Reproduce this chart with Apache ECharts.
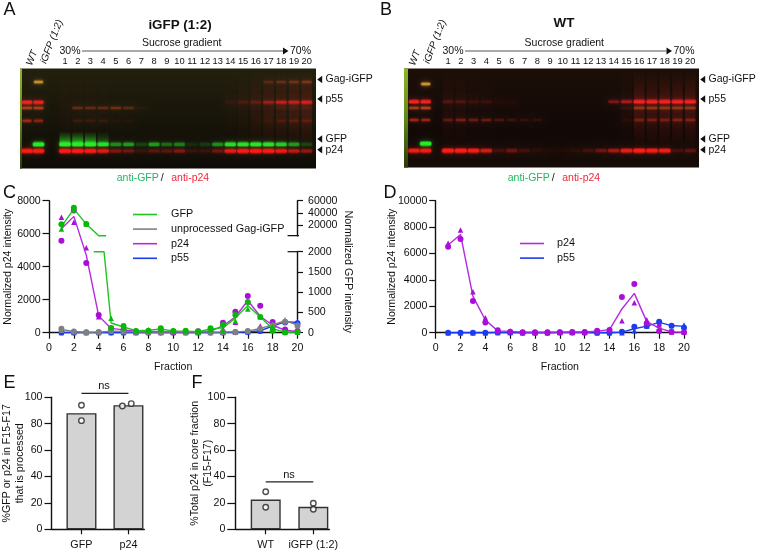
<!DOCTYPE html>
<html><head><meta charset="utf-8">
<style>html,body{margin:0;padding:0;background:#fff}#c{width:757px;height:552px}</style>
<script src="https://cdn.jsdelivr.net/npm/echarts@6/dist/echarts.min.js"></script>
</head><body><div id="c"></div>
<script>
// ---------- panel C (fractions 1..20) ----------
const p24C_mean = [6300,7050,4700,1020,260,170,90,60,70,40,40,50,90,420,950,1950,1000,450,150,70];
const p24C_circle = [5580,7400,4220,1070,250,180,80,60,90,40,40,60,100,600,1270,2220,1640,650,200,100];
const p24C_tri = [7000,6700,5150,970,270,160,100,60,50,40,40,40,80,240,630,1880,400,250,100,40];
const gfpC_upper_x = [1,2,3,4,4.6];
const gfpC_upper_mean = [17800,46700,22000,3100,3100];
const gfpC_upper_circle = [21600,48600,22100];
const gfpC_upper_tri = [14000,44900,22000];
const gfpC_lower_x = [3.6,4.43,5,6,7,8,9,10,11,12,13,14,15,16,17,18,19,20];
const gfpC_lower_mean = [2000,2000,240,140,50,60,90,40,40,25,90,120,360,670,390,100,10,15];
const gfpC_circle = [null,null,null,null,115,165,40,50,107,40,50,25,107,190,436,757,387,50,8,16];
const gfpC_tri = [null,null,null,null,354,120,60,70,70,40,30,25,70,50,288,584,396,150,12,14];
const gagC_mean = [80,30,10,15,40,30,25,15,15,30,20,30,15,15,20,40,105,190,296,190];
const gagC_circle = [100,30,10,15,40,30,25,15,10,30,20,40,15,15,20,40,100,180,270,170];
const gagC_tri = [60,30,10,15,40,30,25,15,20,30,20,20,15,15,20,40,110,200,320,210];
const p55C_mean = [10,5,5,5,5,10,5,5,5,5,5,5,5,10,30,50,120,400,660,620];
const p55C_circle = [10,5,5,5,5,10,5,5,5,5,5,5,5,10,30,40,100,380,620,580];
const p55C_tri = [10,5,5,5,5,10,5,5,5,5,5,5,5,10,30,60,140,420,700,660];
// ---------- panel D ----------
const p24D_mean = [6640,7440,2750,960,140,100,40,40,40,40,50,50,120,230,1800,2980,840,350,60,30];
const p24D_circle = [6515,7096,2400,780,177,75,30,40,30,40,50,60,150,200,2700,3690,700,120,75,25];
const p24D_tri = [6770,7780,3100,1140,100,120,50,40,50,40,50,40,90,260,910,2270,985,580,50,30];
const p55D_mean = [0,0,0,0,10,10,0,0,0,10,10,10,0,0,40,300,500,780,540,480];
const p55D_circle = [0,0,0,0,10,10,0,0,0,10,10,10,0,0,75,450,500,830,530,380];
const p55D_tri = [0,0,0,0,10,10,0,0,0,10,10,10,0,0,0,150,500,730,550,580];
// ---------- panels E, F ----------
const catE = ['GFP','p24'];
const barE = [88,94];
const ptsE = [[0.653,94],[0.653,82.3],[1.53,93.4],[1.72,95.2]];
const catF = ['WT','iGFP (1:2)'];
const barF = [22.5,17];
const ptsF = [[0.647,28.5],[0.647,16.7],[1.66,19.7],[1.66,15.2]];
const posEF = [0.653,1.66];
// ---------- blots: band strength per lane (WT, iGFP, 1..20) ----------
const laneNums = ['1','2','3','4','5','6','7','8','9','10','11','12','13','14','15','16','17','18','19','20'];
const A_p24 = [1,1, 1,1,.9,.65,.25,.2,.08,.15,.15,.25,.08,.08,.2,.7,.95,1,.95,.75,.45,.3];
const A_gfp = [0,1, 1,1,1,.75,.3,.35,.1,.35,.2,.25,.05,.08,.3,.75,.8,.85,.8,.6,.35,.1];
const A_p55 = [1,.9, 0,0,0,0,0,0,0,0,0,0,0,0,0,.05,.1,.15,.3,.5,.5,.6];
const A_m1 = [.5,.5, 0,.2,.2,.2,.25,.18,.04,0,0,0,0,0,0,0,0,0,0,.05,.05,.05];
const A_m2 = [.5,.4, 0,.1,.1,.08,.04,.04,0,0,0,0,0,0,0,0,0,0,.04,.12,.15,.15];
const A_gag = [0,.7, 0,0,0,0,0,0,0,0,0,0,0,0,0,0,0,0,.15,.2,.25,.3];
const A_smear = [0,0, .05,.05,.05,.03,0,0,0,0,0,0,0,0,0,.05,.1,.2,.3,.3,.35,.4];
const B_p24 = [.8,.8, 1,1,.85,.55,.1,.2,.1,.05,.03,.03,.05,.1,.2,.35,.7,1,.85,.8,.1,.15];
const B_gfp = [0,1, 0,0,0,0,0,0,0,0,0,0,0,0,0,0,0,0,0,0,0,0];
const B_p55 = [1,1, .12,.12,.08,.08,.03,.03,0,0,0,0,0,0,0,.25,.4,1,1,1,1,1];
const B_m1 = [.5,.6, 0,0,0,0,0,0,0,0,0,0,0,0,0,0,.05,.35,.35,.35,.35,.35];
const B_m2 = [.5,.45, .2,.3,.25,.25,.15,.12,.08,.08,0,0,0,0,0,0,.05,.25,.25,.25,.3,.3];
const B_gag = [0,.8, 0,0,0,0,0,0,0,0,0,0,0,0,0,0,0,0,0,0,0,0];
const B_smear = [0,0, .12,.12,.05,.03,0,0,0,0,0,0,0,0,0,0,.08,.4,.35,.4,.4,.4];

const FONT = '"Liberation Sans", Arial, sans-serif';
const GREEN='#1fc41f', GREEN_M='#08b808', PURPLE='#b32be0', PURPLE_M='#a90fd8', GRAY='#808080', BLUE='#1c3cf0', INK='#111';
const els=[];
function text(t,x,y,o={}){els.push({type:'text',x,y,rotation:o.rot||0,silent:true,z:20,style:{text:t,x:0,y:0,fill:o.fill||INK,font:(o.style||'')+' '+(o.weight||'')+' '+(o.size||10.5)+'px '+FONT,textAlign:o.align||'center',textVerticalAlign:'middle',textBaseline:'middle'}});}
function tri(x,y,w,h,dir){
  const pts = dir<0?[[x,y],[x+w,y-h],[x+w,y+h]]:[[x+w,y],[x,y-h],[x,y+h]];
  els.push({type:'polygon',silent:true,z:20,shape:{points:pts},style:{fill:INK}});
}
function band(x,y,w,h,c,a){
  if(a<=0) return;
  els.push({type:'rect',silent:true,z:10,shape:{x:x-w/2-.5,y:y-h/2-1.2,width:w+1,height:h+2.4,r:2},style:{fill:c,opacity:a*.4,shadowBlur:5,shadowColor:c}});
  els.push({type:'rect',silent:true,z:11,shape:{x:x-w/2,y:y-h/2,width:w,height:h,r:1.5},style:{fill:c,opacity:a*.9,shadowBlur:2,shadowColor:c}});
}
function smear(x,y0,y1,w,c,a){ if(a<=0) return; const t=c+'00', m=c; els.push({type:'rect',silent:true,z:9,shape:{x:x-w/2,y:y0,width:w,height:y1-y0},style:{opacity:a,fill:{type:'linear',x:0,y:0,x2:0,y2:1,colorStops:[{offset:0,color:t},{offset:.3,color:m},{offset:.6,color:m},{offset:1,color:t}]}}}); }
function blot(b){
  els.push({type:'rect',silent:true,z:8,shape:{x:b.x0,y:b.y0,width:b.x1-b.x0,height:b.y1-b.y0},style:{fill:{type:'linear',x:0,y:0,x2:0,y2:1,colorStops:b.bg}}});
  els.push({type:'rect',silent:true,z:9,shape:{x:b.x0,y:b.y0,width:b.edge,height:b.y1-b.y0},style:{fill:{type:'linear',x:0,y:0,x2:0,y2:1,colorStops:[{offset:0,color:'#8fb52a'},{offset:.5,color:'#5e8a18'},{offset:1,color:'#2a3a0c'}]}}});
  const lx = i=> i===0?b.wt : i===1?b.ig : b.l1+(i-2)*b.dl;
  b.smear.forEach((a,i)=>{ smear(lx(i),b.y0+2,b.rp24-2,10.5,'#c8281c',a*.5); });
  if(b.streak) b.streak.forEach((a,i)=>{ els.push({type:'rect',silent:true,z:9,shape:{x:lx(i+2)-5.5,y:b.rgfp-13,width:11,height:13},style:{opacity:a,fill:{type:'linear',x:0,y:0,x2:0,y2:1,colorStops:[{offset:0,color:'rgba(40,220,40,0)'},{offset:1,color:'rgba(40,230,40,.75)'}]}}}); });
  b.gag.forEach((a,i)=>band(lx(i),b.rgag,i<2?9:10,2,i<2?'#e0a030':'#c84a20',a));
  b.p55.forEach((a,i)=>band(lx(i),b.rp55,i<2?10:11,2.4,'#f52020',a));
  b.m1.forEach((a,i)=>band(lx(i),b.rm1,i<2?10:11,2,'#d05020',a));
  b.m2.forEach((a,i)=>band(lx(i),b.rm2,i<2?9:10,2,'#d03018',a));
  b.gfp.forEach((a,i)=>band(lx(i),b.rgfp,11,3.2,'#26f026',a));
  b.p24.forEach((a,i)=>band(lx(i),b.rp24,i<2?11:11.5,3.2,'#ff1c14',a));
  text(b.title,b.tx,b.ty,{weight:'bold',size:13.4});
  text('Sucrose gradient',b.sx,43,{size:10.5});
  text('30%',b.p30,51.5,{size:10.5});
  text('70%',b.p70,51.5,{size:10.5});
  els.push({type:'line',silent:true,z:20,shape:{x1:b.ax0,y1:51,x2:b.ax1,y2:51},style:{stroke:'#555',lineWidth:1}});
  tri(b.ax1,51,5.5,3.4,1);
  laneNums.forEach((n,i)=>text(n,b.lab0+i*b.dlab,61.7,{size:9.3}));
  text('WT',b.wtx,58,{rot:1.2,size:10,style:'italic'});
  text('iGFP (1:2)',b.igx,41.7,{rot:1.2,size:10,style:'italic'});
  [['Gag-iGFP',79.5],['p55',99],['GFP',139],['p24',149.7]].forEach(([t,y])=>{ tri(b.x1+1.2,y,5,3.8,-1); text(t,b.x1+9.5,y,{align:'left',size:10.5}); });
  text('anti-GFP',b.ag,178.5,{align:'left',fill:'#1fb860',size:10.5});
  text('/',b.ag+45.5,178.5,{size:10.5});
  text('anti-p24',b.ag+54.5,178.5,{align:'left',fill:'#f0283c',size:10.5});
}
blot({x0:20,x1:316,y0:68.5,y1:168.5,edge:2,bg:[{offset:0,color:'#23200e'},{offset:.6,color:'#151208'},{offset:1,color:'#0e0c06'}],
  wt:27,ig:38.5,l1:65,dl:12.72,rgag:82,rp55:102.3,rm1:108,rm2:120.7,rgfp:144.3,rp24:151,
  p24:A_p24,gfp:A_gfp,p55:A_p55,m1:A_m1,m2:A_m2,gag:A_gag,smear:A_smear,streak:[.9,1,.9,.4],
  title:'iGFP (1:2)',tx:180,ty:25,sx:181.7,p30:70,p70:300.5,ax0:82,ax1:283,lab0:65,dlab:12.72,wtx:32,igx:51.7,ag:116.7});
blot({x0:404,x1:699,y0:68.5,y1:167.5,edge:4,bg:[{offset:0,color:'#1c0f08'},{offset:.6,color:'#120806'},{offset:1,color:'#160c06'}],
  wt:414,ig:425.7,l1:448,dl:12.75,rgag:84,rp55:101.7,rm1:108,rm2:120,rgfp:143.7,rp24:150.7,
  p24:B_p24,gfp:B_gfp,p55:B_p55,m1:B_m1,m2:B_m2,gag:B_gag,smear:B_smear,
  title:'WT',tx:564,ty:23,sx:564.3,p30:453,p70:684,ax0:465,ax1:666.5,lab0:448,dlab:12.75,wtx:415,igx:435,ag:507.7});
[['A',9.5,10],['B',386,10],['C',9.5,193],['D',390,193],['E',9.5,383],['F',197,383]].forEach(([t,x,y])=>text(t,x,y,{size:18}));
text('Normalized GFP intensity',347.7,271.7,{rot:-Math.PI/2,size:10.8});
text('ns',104,386,{size:11});
text('ns',289,475,{size:11});

const plain = v=>String(v);
const TICK = {color:INK,width:1.2};
const LAB = m=>({color:INK,fontFamily:FONT,fontSize:10.6,margin:m,formatter:plain});
const NAME = {color:INK,fontFamily:FONT,fontSize:10.6,lineHeight:13};
const ax = {nameMoveOverlap:false,axisLine:{show:true,onZero:false,lineStyle:{color:INK,width:1.4}},axisTick:{show:true,length:6.5,lineStyle:TICK},axisLabel:LAB(8.3),splitLine:{show:false},nameTextStyle:NAME};
const fracX = (i,show)=>Object.assign({},ax,{type:'value',gridIndex:i,min:0,max:20,interval:2,show,name:'Fraction',nameLocation:'middle',nameGap:28,axisTick:{show:true,length:6,lineStyle:TICK},axisLabel:Object.assign(LAB(10),{hideOverlap:false})});
const idx = a=>a.map((v,i)=>[i+1,v]).filter(p=>p[1]!=null);
const zip = (xs,ys)=>xs.map((x,i)=>[x,ys[i]]);
function line(name,g,data,color,z){return {name,type:'line',xAxisIndex:g,yAxisIndex:g,data,symbol:'none',clip:false,z:z||3,animation:false,lineStyle:{color,width:1.4},itemStyle:{color}};}
function dots(g,data,sym,color,z){return {name:'rep',type:'scatter',xAxisIndex:g,yAxisIndex:g,data,symbol:sym,symbolSize:sym==='triangle'?5.5:6,clip:false,z:z||4,animation:false,itemStyle:{color,opacity:1}};}
function catAxis(g,cats,pos,mx){return Object.assign({},ax,{type:'value',gridIndex:g,min:0,max:mx,
  axisTick:{show:true,length:5,customValues:pos,lineStyle:TICK},
  axisLabel:{color:INK,fontFamily:FONT,fontSize:10.8,margin:10.5,customValues:pos,formatter:v=>cats[pos.indexOf(v)]}});}
const pctY=(g,name,gap,tl)=>Object.assign({},ax,{type:'value',gridIndex:g,min:0,max:100,interval:20,name,nameLocation:'middle',nameGap:gap,axisTick:{show:true,length:tl,lineStyle:TICK},axisLabel:LAB(tl+2)});
const LEG = {orient:'vertical',icon:'rect',itemWidth:24,itemHeight:1.6,itemGap:3.6,selectedMode:false};

const option={
  animation:false,backgroundColor:'#fff',textStyle:{fontFamily:FONT},
  graphic:{elements:els},
  legend:[
    Object.assign({},LEG,{data:['GFP','unprocessed Gag-iGFP','p24','p55'],left:128,top:204,textStyle:{color:INK,fontFamily:FONT,fontSize:10.8,padding:[0,0,0,9]}}),
    Object.assign({},LEG,{data:['p24','p55'],left:515,top:233,textStyle:{color:INK,fontFamily:FONT,fontSize:10.8,padding:[0,0,0,8]}})
  ],
  grid:[
    {left:49,top:200.7,width:248.5,height:132},
    {left:49,top:251.7,width:248.5,height:81},
    {left:49,top:200.7,width:248.5,height:35},
    {left:435.7,top:200.7,width:248.3,height:132},
    {left:49.3,top:397.3,width:95,height:132},
    {left:235.3,top:397.3,width:94,height:132}
  ],
  xAxis:[
    fracX(0,true),fracX(1,false),fracX(2,false),fracX(3,true),
    catAxis(4,catE,posEF,2),catAxis(5,catF,[0.647,1.66],2)
  ],
  yAxis:[
    Object.assign({},ax,{type:'value',gridIndex:0,min:0,max:8000,interval:2000,name:'Normalized p24 intensity',nameLocation:'middle',nameGap:34}),
    Object.assign({},ax,{type:'value',gridIndex:1,min:0,max:2000,interval:500,position:'right',axisTick:{show:true,length:5.5,lineStyle:TICK},axisLabel:LAB(10.5)}),
    Object.assign({},ax,{type:'value',gridIndex:2,min:3100,max:60000,position:'right',
      axisTick:{show:true,length:5.5,lineStyle:TICK,customValues:[20000,40000,60000]},
      axisLabel:Object.assign(LAB(10.5),{customValues:[20000,40000,60000]})}),
    Object.assign({},ax,{type:'value',gridIndex:3,min:0,max:10000,interval:2000,name:'Normalized p24 intensity',nameLocation:'middle',nameGap:37.5}),
    pctY(4,'%GFP or p24 in F15-F17\nthat is processed',24,6.5),
    pctY(5,'%Total p24 in core fraction\n(F15-F17)',21,8)
  ],
  series:[
    line('p55',0,idx(p55C_mean),BLUE),dots(0,idx(p55C_circle),'circle',BLUE),dots(0,idx(p55C_tri),'triangle',BLUE),
    line('p24',0,idx(p24C_mean),PURPLE),dots(0,idx(p24C_circle),'circle',PURPLE_M),dots(0,idx(p24C_tri),'triangle',PURPLE_M),
    line('unprocessed Gag-iGFP',1,idx(gagC_mean),GRAY,5),dots(1,idx(gagC_circle),'circle',GRAY,5),dots(1,idx(gagC_tri),'triangle',GRAY,5),
    line('GFP',2,zip(gfpC_upper_x,gfpC_upper_mean),GREEN,6),dots(2,idx(gfpC_upper_circle),'circle',GREEN_M,6),dots(2,idx(gfpC_upper_tri),'triangle',GREEN_M,6),
    line('GFP',1,zip(gfpC_lower_x,gfpC_lower_mean),GREEN,6),dots(1,idx(gfpC_circle),'circle',GREEN_M,6),dots(1,idx(gfpC_tri),'triangle',GREEN_M,6),
    line('p55',3,idx(p55D_mean),BLUE,3),dots(3,idx(p55D_circle),'circle',BLUE,3),dots(3,idx(p55D_tri),'triangle',BLUE,3),
    line('p24',3,idx(p24D_mean),PURPLE,5),dots(3,idx(p24D_circle),'circle',PURPLE_M,5),dots(3,idx(p24D_tri),'triangle',PURPLE_M,5),
    {type:'bar',xAxisIndex:4,yAxisIndex:4,data:zip(posEF,barE),barWidth:30,itemStyle:{color:'#d3d3d3',borderColor:'#333',borderWidth:1.4},silent:true},
    {type:'bar',xAxisIndex:5,yAxisIndex:5,data:zip([0.647,1.66],barF),barWidth:30,itemStyle:{color:'#d3d3d3',borderColor:'#333',borderWidth:1.4},silent:true},
    {type:'scatter',xAxisIndex:4,yAxisIndex:4,data:ptsE,symbol:'circle',symbolSize:5.5,z:5,clip:false,itemStyle:{color:'#fff',borderColor:'#222',borderWidth:1.4}},
    {type:'scatter',xAxisIndex:5,yAxisIndex:5,data:ptsF,symbol:'circle',symbolSize:5.5,z:5,clip:false,itemStyle:{color:'#fff',borderColor:'#222',borderWidth:1.4}},
    {type:'line',xAxisIndex:4,yAxisIndex:4,data:[[posEF[0],103],[posEF[1],103]],symbol:'none',clip:false,lineStyle:{color:'#222',width:1.2}},
    {type:'line',xAxisIndex:5,yAxisIndex:5,data:[[0.647,36],[1.66,36]],symbol:'none',clip:false,lineStyle:{color:'#222',width:1.2}},
    {type:'line',xAxisIndex:1,yAxisIndex:1,data:[[19.2,2000],[20,2000]],symbol:'none',clip:false,lineStyle:{color:INK,width:1.2}},
    {type:'line',xAxisIndex:2,yAxisIndex:2,data:[[19.2,3100],[20.4,3100]],symbol:'none',clip:false,lineStyle:{color:INK,width:1.2}}
  ]
};
echarts.init(document.getElementById('c'),null,{renderer:'canvas'}).setOption(option);
</script></body></html>
